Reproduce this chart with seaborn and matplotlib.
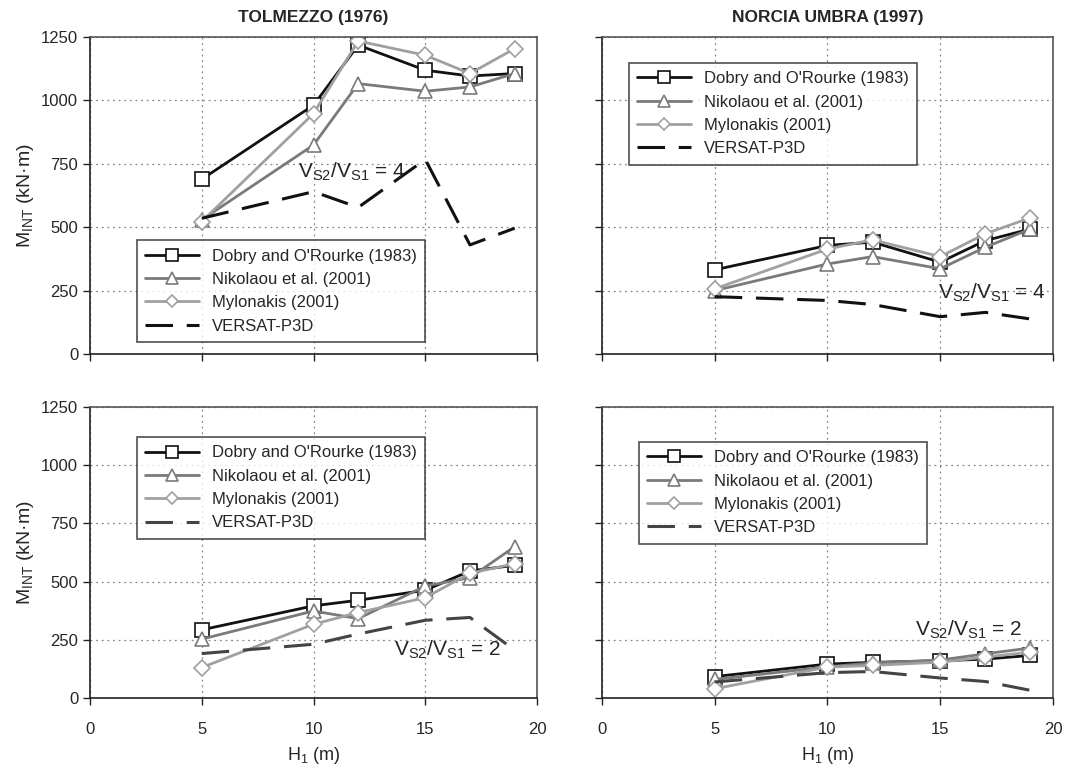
import pandas as pd
import matplotlib
matplotlib.use("Agg")
import matplotlib.pyplot as plt
import seaborn as sns

sns.set_style("white")
plt.rcParams['font.family'] = ['Liberation Sans', 'DejaVu Sans']
plt.rcParams['mathtext.fontset'] = 'custom'
plt.rcParams['mathtext.rm'] = 'Liberation Sans'
plt.rcParams['mathtext.it'] = 'Liberation Sans'
plt.rcParams['mathtext.default'] = 'regular'

# profundidades H1 (m)
h1 = [5, 10, 12, 15, 17, 19]

# Tolmezzo, Vs2/Vs1 = 4
tol4_dobry = [689, 981, 1218, 1119, 1096, 1106]
tol4_nikolaou = [529, 824, 1066, 1036, 1053, 1106]
tol4_mylonakis = [522, 948, 1234, 1178, 1106, 1204]
tol4_versat = [535, 640, 578, 767, 430, 496]

# Norcia Umbra, Vs2/Vs1 = 4
nor4_dobry = [332, 428, 441, 362, 447, 493]
nor4_nikolaou = [250, 355, 384, 336, 421, 493]
nor4_mylonakis = [257, 414, 450, 384, 474, 537]
nor4_versat = [226, 211, 195, 147, 164, 138]

# Tolmezzo, Vs2/Vs1 = 2
tol2_dobry = [293, 396, 420, 463, 546, 570]
tol2_nikolaou = [253, 374, 341, 481, 517, 650]
tol2_mylonakis = [131, 317, 367, 431, 536, 577]
tol2_versat = [191, 231, 275, 334, 346, 206]

# Norcia Umbra, Vs2/Vs1 = 2
nor2_dobry = [92, 146, 153, 160, 167, 183]
nor2_nikolaou = [80, 134, 151, 163, 190, 215]
nor2_mylonakis = [40, 133, 140, 154, 176, 197]
nor2_versat = [69, 109, 114, 86, 71, 33]

labels = ["Dobry and O'Rourke (1983)", "Nikolaou et al. (2001)",
          "Mylonakis (2001)", "VERSAT-P3D"]

panels = [
    dict(series=[tol4_dobry, tol4_nikolaou, tol4_mylonakis, tol4_versat],
         title="TOLMEZZO (1976)", ratio="4", txt=(9.3, 718),
         leg=(0.105, 0.038), leg_loc='lower left', dash='#111111'),
    dict(series=[nor4_dobry, nor4_nikolaou, nor4_mylonakis, nor4_versat],
         title="NORCIA UMBRA (1997)", ratio="4", txt=(14.9, 240),
         leg=(0.06, 0.918), leg_loc='upper left', dash='#111111'),
    dict(series=[tol2_dobry, tol2_nikolaou, tol2_mylonakis, tol2_versat],
         title=None, ratio="2", txt=(13.6, 206),
         leg=(0.105, 0.897), leg_loc='upper left', dash='#444444'),
    dict(series=[nor2_dobry, nor2_nikolaou, nor2_mylonakis, nor2_versat],
         title=None, ratio="2", txt=(13.9, 292),
         leg=(0.082, 0.88), leg_loc='upper left', dash='#444444'),
]

positions = [
    [0.0841, 0.5397, 0.4178, 0.4122],
    [0.5626, 0.5397, 0.4215, 0.4122],
    [0.0841, 0.0923, 0.4178, 0.3784],
    [0.5626, 0.0923, 0.4215, 0.3784],
]

fig = plt.figure(figsize=(10.7, 7.69), dpi=100)

for i, (p, pos) in enumerate(zip(panels, positions)):
    ax = fig.add_axes(pos)
    d, n, m, v = p['series']
    sns.lineplot(x=h1, y=d, ax=ax, color='#111111', lw=2, marker='s', ms=10,
                 mfc='white', mec='#111111', mew=1.2, label=labels[0])
    sns.lineplot(x=h1, y=n, ax=ax, color='#7a7a7a', lw=2, marker='^', ms=10,
                 mfc='white', mec='#7a7a7a', mew=1.2, label=labels[1])
    sns.lineplot(x=h1, y=m, ax=ax, color='#a0a0a0', lw=2, marker='D', ms=8,
                 mfc='white', mec='#a0a0a0', mew=1.2, label=labels[2])
    sns.lineplot(x=h1, y=v, ax=ax, color=p['dash'], lw=2.2,
                 linestyle=(0, (9, 4.5)), label=labels[3])

    ax.set_xlim(0, 20)
    ax.set_ylim(0, 1250)
    ax.set_xticks([0, 5, 10, 15, 20])
    ax.set_yticks([0, 250, 500, 750, 1000, 1250])
    ax.grid(True, color='#888888', linestyle=(0, (1.5, 3)), lw=0.9)
    ax.tick_params(axis='both', direction='out', length=5, width=1,
                   bottom=True, left=True, labelsize=12, color='#222222')
    ax.tick_params(axis='x', pad=12)
    for s in ['left', 'bottom']:
        ax.spines[s].set_color('#222222')
        ax.spines[s].set_linewidth(1.2)
    for s in ['top', 'right']:
        ax.spines[s].set_color('#555555')
        ax.spines[s].set_linewidth(1.2)

    if i in (0, 2):
        ax.set_ylabel('M$_{INT}$ (kN·m)', fontsize=14)
    else:
        ax.set_yticklabels([])
        ax.set_ylabel('')
    if i in (2, 3):
        ax.set_xlabel('H$_{1}$ (m)', fontsize=13, labelpad=6)
    else:
        ax.set_xticklabels([])
        ax.set_xlabel('')
    if p['title']:
        ax.set_title(p['title'], fontsize=12.5, fontweight='bold', pad=11)

    ax.text(p['txt'][0], p['txt'][1],
            'V$_{S2}$/V$_{S1}$ = ' + p['ratio'],
            fontsize=15, va='center', ha='left')

    leg = ax.legend(loc=p['leg_loc'], bbox_to_anchor=p['leg'], fontsize=12,
                    frameon=True, fancybox=False, edgecolor='#222222',
                    handlelength=3.2, labelspacing=0.5, borderpad=0.5,
                    borderaxespad=0, markerscale=0.8)
    leg.get_frame().set_linewidth(1.2)

plt.savefig("out.png", dpi=100)
